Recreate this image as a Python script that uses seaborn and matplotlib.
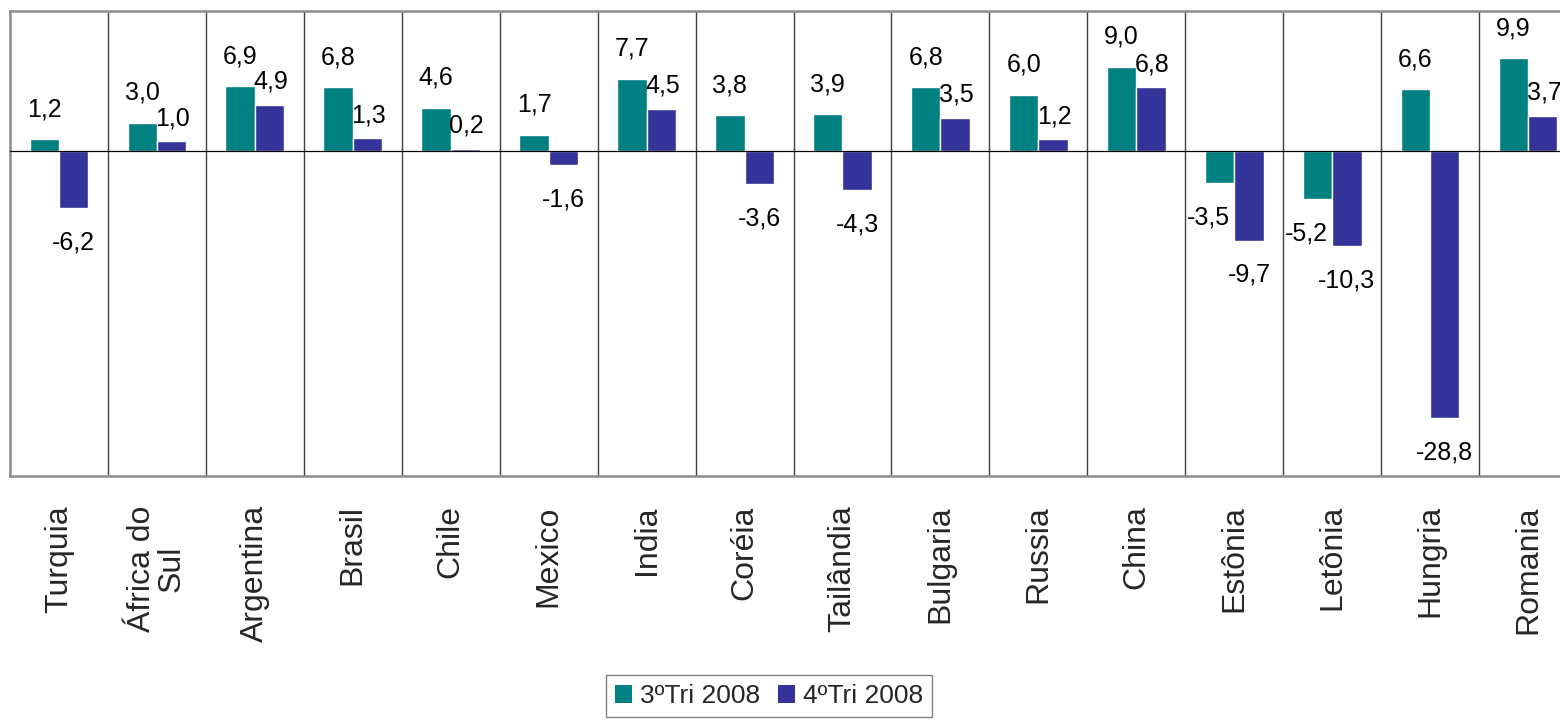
import pandas as pd
import matplotlib.pyplot as plt
import seaborn as sns
from matplotlib.patches import Patch

# ---------- data ----------
countries = ["Turquia", "África do\nSul", "Argentina", "Brasil", "Chile", "Mexico",
             "India", "Coréia", "Tailândia", "Bulgaria", "Russia", "China",
             "Estônia", "Letônia", "Hungria", "Romania"]
tri3 = [1.2, 3.0, 6.9, 6.8, 4.6, 1.7, 7.7, 3.8, 3.9, 6.8, 6.0, 9.0, -3.5, -5.2, 6.6, 9.9]
tri4 = [-6.2, 1.0, 4.9, 1.3, 0.2, -1.6, 4.5, -3.6, -4.3, 3.5, 1.2, 6.8, -9.7, -10.3, -28.8, 3.7]
series = ["3ºTri 2008", "4ºTri 2008"]
colors = ["#008080", "#333399"]

df = pd.DataFrame({"pais": countries, series[0]: tri3, series[1]: tri4})
long_df = df.melt(id_vars="pais", var_name="periodo", value_name="valor")

# ---------- style ----------
sns.set_style("white")
plt.rcParams["font.family"] = ["Liberation Sans", "DejaVu Sans"]

fig = plt.figure(figsize=(15.6, 7.21), dpi=100)
ax = fig.add_axes([10 / 1560, 1 - 476 / 721, 1567 / 1560, 465 / 721])

sns.barplot(data=long_df, x="pais", y="valor", hue="periodo", order=countries,
            hue_order=series, palette=colors, width=0.6, saturation=1,
            errorbar=None, legend=False, ax=ax)

ax.set_xlim(-0.5, len(countries) - 0.5)
ax.set_ylim(-35, 15)
ax.set_xlabel("")
ax.set_ylabel("")
ax.set_yticks([])
ax.tick_params(axis="x", length=0, pad=21, labelsize=23)
for lbl in ax.get_xticklabels():
    lbl.set_rotation(90)
    lbl.set_va("top")
    lbl.set_ha("center")
    lbl.set_multialignment("center")
    lbl.set_linespacing(1.0)

for s in ax.spines.values():
    s.set_color("#8c8c8c")
    s.set_linewidth(1.8)

ax.axhline(0, color="black", lw=0.9, zorder=3)
for i in range(len(countries) - 1):
    ax.axvline(i + 0.5, color="#404040", lw=1.0, zorder=0)

# ---------- value labels ----------
for k, cont in enumerate(ax.containers):
    for p, v in zip(cont.patches, [tri3, tri4][k]):
        x = p.get_x() + p.get_width() / 2
        txt = f"{v:.1f}".replace(".", ",")
        if v >= 0:
            dx, dy, va = (0, 13, "bottom") if k == 0 else (1, 8, "bottom")
        else:
            dx, dy, va = (-8, -16, "top") if k == 0 else (0, -16, "top")
        ax.annotate(txt, (x, v), xytext=(dx, dy), textcoords="offset points",
                    ha="center", va=va, fontsize=18, color="black")

# ---------- legend ----------
handles = [Patch(facecolor=c, edgecolor="none") for c in colors]
leg = fig.legend(handles, series, loc="upper center", ncol=2,
                 bbox_to_anchor=(769 / 1560, 1 - 675 / 721), fontsize=19,
                 frameon=True, fancybox=False, framealpha=1, edgecolor="#808080",
                 borderpad=0.35, handlelength=0.64, handleheight=0.64,
                 handletextpad=0.3, columnspacing=0.7, borderaxespad=0)
leg.get_frame().set_linewidth(1.0)

fig.savefig("out.png", dpi=100)
